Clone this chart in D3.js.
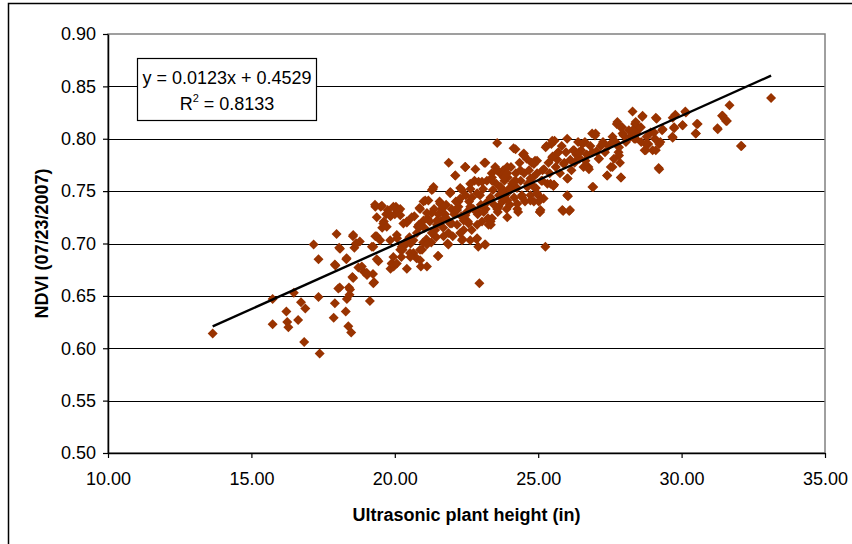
<!DOCTYPE html>
<html>
<head>
<meta charset="utf-8">
<script src="https://cdn.jsdelivr.net/npm/d3@7"></script>
<style>
  body { margin: 0; background: #fff; }
  svg text { font-family: Arial, "Liberation Sans", sans-serif; }
</style>
</head>
<body>
<svg id="chart" width="852" height="544"></svg>
<script>
// [plant height (in), NDVI]
var points = [
 [13.65,0.614],[15.74,0.623],[15.74,0.647],[16.22,0.635],[16.25,0.625],[16.29,0.620],[16.48,0.653],[16.63,0.627],[16.73,0.644],[16.88,0.638],
 [16.84,0.606],[17.17,0.699],[17.34,0.685],[17.34,0.649],[17.38,0.595],[17.87,0.629],[17.91,0.643],[17.93,0.679],[17.97,0.709],[18.06,0.696],
 [18.08,0.658],[18.29,0.635],[18.31,0.685],[18.33,0.647],[18.40,0.658],[18.38,0.621],[18.42,0.651],[18.48,0.615],[18.54,0.707],[18.59,0.696],
 [18.52,0.668],[18.65,0.700],[18.73,0.677],[18.78,0.702],[18.92,0.673],[19.03,0.670],[19.13,0.645],[19.20,0.697],[19.24,0.671],[19.28,0.663],
 [19.32,0.707],[19.32,0.735],[19.37,0.685],[19.51,0.735],[19.56,0.715],[19.62,0.721],[19.70,0.728],[19.75,0.732],[19.85,0.676],[19.85,0.726],
 [19.89,0.681],[19.96,0.678],[20.00,0.728],[20.04,0.735],[20.08,0.705],[20.13,0.731],[20.19,0.733],[20.23,0.687],[20.27,0.694],[20.34,0.698],
 [20.40,0.702],[20.42,0.720],[20.51,0.706],[20.55,0.700],[20.65,0.691],[20.68,0.726],[20.76,0.686],[20.80,0.716],[20.84,0.718],[20.86,0.734],
 [20.91,0.678],[20.95,0.694],[20.99,0.701],[21.03,0.715],[21.06,0.741],[21.10,0.704],[21.14,0.724],[21.22,0.721],[21.27,0.701],[21.33,0.752],
 [21.37,0.733],[21.41,0.713],[21.44,0.706],[21.50,0.688],[21.52,0.728],[21.56,0.740],[21.60,0.721],[21.63,0.733],[21.69,0.715],[21.75,0.728],
 [21.79,0.737],[21.84,0.700],[21.88,0.777],[21.90,0.721],[21.94,0.749],[21.98,0.733],[22.02,0.707],[22.07,0.728],[22.11,0.765],[22.13,0.740],
 [22.17,0.718],[22.22,0.735],[22.28,0.753],[22.32,0.726],[22.36,0.704],[22.40,0.713],[22.45,0.773],[22.47,0.746],[22.51,0.730],[22.55,0.721],
 [22.59,0.740],[22.64,0.752],[22.68,0.713],[22.74,0.733],[22.78,0.760],[22.81,0.771],[22.85,0.704],[22.89,0.728],[22.91,0.697],[22.95,0.662],
 [22.97,0.746],[23.00,0.737],[23.04,0.721],[23.08,0.752],[23.12,0.777],[23.14,0.699],[23.17,0.733],[23.21,0.760],[23.25,0.724],[23.31,0.742],
 [23.35,0.718],[23.38,0.767],[23.42,0.751],[23.46,0.737],[23.50,0.773],[23.54,0.757],[23.57,0.796],[23.59,0.730],[23.63,0.746],[23.67,0.767],
 [23.71,0.753],[23.75,0.740],[23.78,0.770],[23.82,0.760],[23.86,0.746],[23.90,0.733],[23.94,0.763],[23.97,0.752],[24.01,0.737],[24.05,0.773],
 [24.09,0.757],[24.14,0.791],[24.16,0.744],[24.22,0.767],[24.26,0.753],[24.30,0.730],[24.35,0.777],[24.39,0.760],[24.43,0.746],[24.47,0.785],
 [24.51,0.767],[24.54,0.740],[24.60,0.781],[24.64,0.757],[24.68,0.770],[24.73,0.746],[24.77,0.777],[24.81,0.763],[24.85,0.740],[24.89,0.779],
 [24.92,0.753],[24.96,0.767],[25.00,0.746],[25.06,0.730],[25.11,0.760],[25.15,0.770],[25.19,0.743],[25.25,0.697],[25.29,0.793],[25.32,0.757],
 [25.36,0.777],[25.40,0.767],[25.46,0.795],[25.50,0.783],[25.53,0.755],[25.57,0.798],[25.61,0.773],[25.67,0.780],[25.70,0.787],[25.76,0.767],
 [25.82,0.793],[25.87,0.731],[25.91,0.777],[25.97,0.787],[26.01,0.800],[26.03,0.762],[26.04,0.745],[26.08,0.731],[26.12,0.780],[26.16,0.770],
 [26.22,0.789],[26.27,0.777],[26.33,0.785],[26.39,0.797],[26.44,0.781],[26.50,0.789],[26.58,0.773],[26.63,0.797],[26.69,0.785],[26.75,0.773],
 [26.82,0.793],[26.88,0.805],[26.92,0.754],[26.98,0.803],[27.03,0.788],[27.11,0.781],[27.18,0.793],[27.26,0.797],[27.33,0.787],[27.40,0.765],
 [27.45,0.793],[27.53,0.773],[27.59,0.802],[27.64,0.781],[27.70,0.797],[27.74,0.814],[27.80,0.787],[27.85,0.777],[27.89,0.763],[27.93,0.811],
 [27.98,0.803],[28.06,0.797],[28.16,0.808],[28.21,0.802],[28.29,0.826],[28.35,0.800],[28.38,0.814],[28.44,0.805],[28.52,0.810],[28.59,0.797],
 [28.63,0.821],[28.71,0.789],[28.78,0.802],[28.84,0.795],[28.92,0.806],[28.99,0.789],[29.07,0.800],[29.13,0.819],[29.20,0.772],[29.26,0.797],
 [29.32,0.808],[29.68,0.802],[29.74,0.810],[29.78,0.823],[30.04,0.813],[30.13,0.826],[30.49,0.805],[30.53,0.814],[31.25,0.810],[31.41,0.822],
 [31.50,0.819],[31.58,0.817],[31.67,0.832],[32.09,0.793],[33.12,0.839],
 // dense core, second pass
 [22.46,0.773],[23.16,0.777],[21.35,0.754],[21.93,0.749],[22.34,0.751],[22.92,0.759],[23.39,0.763],[23.74,0.751],[21.17,0.741],[21.58,0.738],
 [22.22,0.740],[22.69,0.744],[23.16,0.738],[23.62,0.735],[21.29,0.729],[21.76,0.725],[22.46,0.727],[22.92,0.730],[23.39,0.724],[21.47,0.718],
 [21.99,0.719],[22.57,0.719],[23.27,0.718],[21.41,0.707],[21.87,0.710],[22.34,0.703],[22.87,0.705],[23.16,0.699],[21.87,0.699],[21.52,0.688],
 [25.49,0.798],[24.50,0.786],[24.96,0.779],[25.66,0.786],[26.25,0.789],[23.92,0.773],[24.38,0.770],[25.20,0.771],[25.89,0.776],[26.42,0.782],
 [23.80,0.763],[24.21,0.760],[24.73,0.762],[25.43,0.757],[26.01,0.762],[24.03,0.751],[24.85,0.754],[25.55,0.756],[23.92,0.741],[24.44,0.744],
 [24.96,0.748],[24.27,0.733],[25.02,0.740],[26.01,0.746],[25.06,0.730],[25.84,0.732],[26.11,0.732],
 [19.31,0.737],[19.55,0.736],[20.07,0.733],[19.78,0.729],[20.19,0.727],[19.60,0.719],[20.88,0.733],[20.42,0.721],[20.59,0.725],[21.00,0.722],
 [18.55,0.708],[19.37,0.707],[20.07,0.708],[20.77,0.710],[18.09,0.695],[18.67,0.700],[19.25,0.697],[19.84,0.703],[20.24,0.697],[20.53,0.691],
 [20.88,0.694],[17.91,0.680],[18.32,0.686],[18.85,0.678],[19.43,0.683],[19.90,0.681],[20.42,0.676],[21.12,0.678],[19.02,0.672],[19.25,0.662],
 [18.55,0.667],[18.03,0.657],[18.44,0.656],
 [28.64,0.822],[29.10,0.820],[27.76,0.816],[28.40,0.816],[27.88,0.811],[28.58,0.811],[29.69,0.820],[27.00,0.805],[27.94,0.805],[28.29,0.808],
 [29.04,0.806],[29.34,0.809],[29.74,0.811],[29.69,0.801],[26.54,0.795],[27.24,0.795],[27.59,0.797],[28.40,0.800],[28.75,0.795],[29.22,0.795],
 [26.42,0.787],[26.89,0.787],[27.82,0.792],[28.75,0.789],[29.10,0.789],[26.65,0.779],[27.12,0.781],[27.82,0.784],[26.77,0.771],[27.59,0.773],
 [29.22,0.771],[27.41,0.765],[27.88,0.763],[26.89,0.754],
 [31.43,0.822],[31.55,0.817],[31.26,0.809],[30.56,0.814],[30.03,0.813],[30.50,0.805],[30.15,0.825],[32.07,0.793],
 // dense core, third pass
 [22.11,0.765],[22.46,0.773],[23.57,0.770],[23.92,0.767],[24.21,0.790],[24.50,0.784],[24.85,0.776],[25.26,0.792],[25.49,0.782],[25.14,0.760],
 [25.55,0.756],[22.63,0.757],[23.04,0.759],[23.39,0.760],[23.68,0.754],[24.15,0.759],[24.62,0.754],[21.93,0.748],[22.28,0.743],[22.87,0.748],
 [23.34,0.744],[23.80,0.743],[24.27,0.738],[24.73,0.741],[25.08,0.732],[21.70,0.735],[22.17,0.732],[22.63,0.735],[23.10,0.730],[23.57,0.733],
 [23.92,0.725],[21.12,0.729],[21.47,0.722],[21.93,0.719],[22.40,0.722],[22.87,0.718],[23.34,0.721],[20.88,0.716],[21.29,0.710],[21.70,0.707],
 [22.28,0.710],[22.63,0.703],[20.65,0.703],[21.12,0.699],[20.19,0.694],[20.54,0.687],[19.95,0.687],[20.07,0.681],[20.88,0.684],[19.49,0.703],
 [19.72,0.716],[19.37,0.725],[19.95,0.735],[20.30,0.719],[21.00,0.740],[21.29,0.751]
];

var xTicks = [10, 15, 20, 25, 30, 35];
var yTicks = [0.50, 0.55, 0.60, 0.65, 0.70, 0.75, 0.80, 0.85, 0.90];
var slope = 0.0123, intercept = 0.4529;
var eqLabel = "y = 0.0123x + 0.4529";
var r2Value = "0.8133";
var xTitle = "Ultrasonic plant height (in)";
var yTitle = "NDVI (07/23/2007)";

var svg = d3.select("#chart");
var plotL = 108, plotT = 34, plotR = 825, plotB = 453;

var x = d3.scaleLinear().domain([10, 35]).range([plotL, plotR]);
var y = d3.scaleLinear().domain([0.5, 0.9]).range([plotB, plotT]);

// outer chart frame (only top and left edges show)
svg.append("rect")
   .attr("x", 8.5).attr("y", 3.5)
   .attr("width", 900).attr("height", 600)
   .attr("fill", "none").attr("stroke", "#000").attr("stroke-width", 1.5);

// horizontal gridlines
svg.append("g").selectAll("line")
   .data(yTicks.filter(function(d) { return d > 0.5 && d < 0.9; }))
   .enter().append("line")
   .attr("x1", plotL).attr("x2", plotR)
   .attr("y1", function(d) { return Math.round(y(d)) + 0.5; })
   .attr("y2", function(d) { return Math.round(y(d)) + 0.5; })
   .attr("stroke", "#000").attr("stroke-width", 1.2);

// plot border
svg.append("rect")
   .attr("x", plotL).attr("y", plotT)
   .attr("width", plotR - plotL).attr("height", plotB - plotT)
   .attr("fill", "none").attr("stroke", "#808080").attr("stroke-width", 1.5);

// axes
var yAxis = svg.append("g")
   .attr("transform", "translate(" + plotL + ",0)")
   .call(d3.axisLeft(y).tickValues(yTicks).tickSize(5).tickSizeOuter(0).tickPadding(7).tickFormat(d3.format(".2f")));
var xAxis = svg.append("g")
   .attr("transform", "translate(0," + plotB + ")")
   .call(d3.axisBottom(x).tickValues(xTicks).tickSize(5).tickSizeOuter(0).tickPadding(14).tickFormat(d3.format(".2f")));

[xAxis, yAxis].forEach(function(a) {
    a.select(".domain").attr("stroke", "#000").attr("stroke-width", 1.5);
    a.selectAll(".tick line").attr("stroke", "#000").attr("stroke-width", 1.2);
    a.selectAll(".tick text").attr("fill", "#000").style("font-size", "18px")
     .style("font-family", "Arial, 'Liberation Sans', sans-serif");
});

// diamonds
var r = 5;
svg.append("g").selectAll("path")
   .data(points)
   .enter().append("path")
   .attr("transform", function(d) { return "translate(" + x(d[0]) + "," + y(d[1]) + ")"; })
   .attr("d", "M0," + (-r) + "L" + r + ",0L0," + r + "L" + (-r) + ",0Z")
   .attr("fill", "#993300");

// trendline over the data range
var xExt = d3.extent(points, function(d) { return d[0]; });
svg.append("line")
   .attr("x1", x(xExt[0])).attr("y1", y(slope * xExt[0] + intercept))
   .attr("x2", x(xExt[1])).attr("y2", y(slope * xExt[1] + intercept))
   .attr("stroke", "#000").attr("stroke-width", 2.4);

// equation box
var box = svg.append("g");
box.append("rect")
   .attr("x", 137.5).attr("y", 58.5).attr("width", 179).attr("height", 62)
   .attr("fill", "#fff").attr("stroke", "#000").attr("stroke-width", 1.2);
box.append("text")
   .attr("x", 227).attr("y", 84)
   .attr("text-anchor", "middle").style("font-size", "18px")
   .text(eqLabel);
var r2 = box.append("text")
   .attr("x", 227).attr("y", 110)
   .attr("text-anchor", "middle").style("font-size", "18px");
r2.append("tspan").text("R");
r2.append("tspan").attr("dy", -8).style("font-size", "11px").text("2");
r2.append("tspan").attr("dy", 8).text(" = " + r2Value);

// axis titles
svg.append("text")
   .attr("x", (plotL + plotR) / 2).attr("y", 521)
   .attr("text-anchor", "middle")
   .style("font-size", "18px").style("font-weight", "bold")
   .text(xTitle);
svg.append("text")
   .attr("transform", "translate(48," + ((plotT + plotB) / 2) + ") rotate(-90)")
   .attr("text-anchor", "middle")
   .style("font-size", "18px").style("font-weight", "bold")
   .text(yTitle);
</script>
</body>
</html>
